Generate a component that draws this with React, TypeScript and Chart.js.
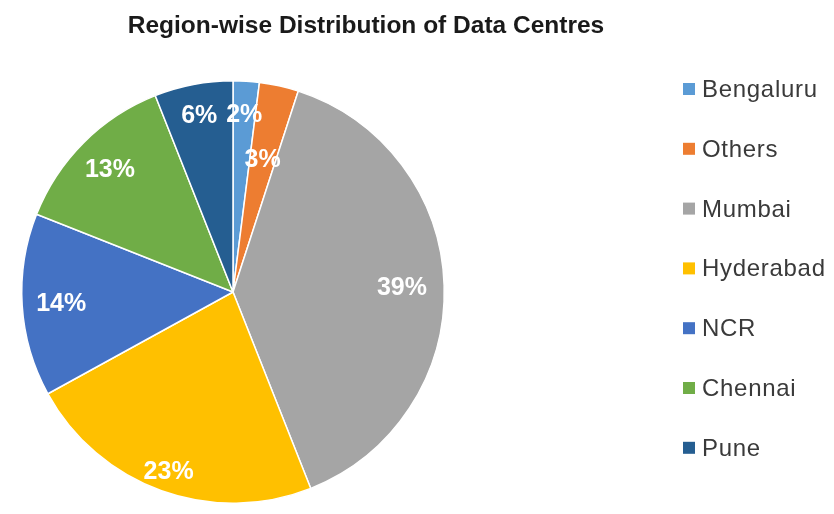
import { useEffect, useRef } from "react";
import { Chart, PieController, ArcElement } from "chart.js";

Chart.register(PieController, ArcElement);

const TITLE = "Region-wise Distribution of Data Centres";
const categories = ["Bengaluru", "Others", "Mumbai", "Hyderabad", "NCR", "Chennai", "Pune"];
const shares = [2, 3, 39, 23, 14, 13, 6];
const colors = ["#5B9BD5", "#ED7D31", "#A5A5A5", "#FFC000", "#4472C4", "#70AD47", "#255E91"];
// label distance from centre as a fraction of the radius (style only)
const labelRadius = [0.846, 0.644, 0.8, 0.9, 0.815, 0.824, 0.853];

const FONT = '"Liberation Sans", Arial, sans-serif';

const overlayPlugin = {
  id: "overlay",
  afterDatasetsDraw(chart: any) {
    const ctx = chart.ctx as CanvasRenderingContext2D;
    const meta = chart.getDatasetMeta(0);
    ctx.save();
    ctx.fillStyle = "#ffffff";
    ctx.font = `bold 25px ${FONT}`;
    ctx.textAlign = "center";
    ctx.textBaseline = "middle";
    const vals = chart.data.datasets[0].data as number[];
    const total = vals.reduce((a, b) => a + b, 0);
    meta.data.forEach((arc: any, i: number) => {
      const p = arc.getProps(["x", "y", "startAngle", "endAngle", "outerRadius"], true);
      const mid = (p.startAngle + p.endAngle) / 2;
      const r = p.outerRadius * labelRadius[i];
      const txt = `${Math.round((vals[i] / total) * 100)}%`;
      ctx.fillText(txt, p.x + Math.cos(mid) * r, p.y + Math.sin(mid) * r + 1);
    });
    ctx.restore();
  },
  afterDraw(chart: any) {
    const ctx = chart.ctx as CanvasRenderingContext2D;
    ctx.save();
    // title
    ctx.fillStyle = "#1a1a1a";
    ctx.font = `bold 24.5px ${FONT}`;
    ctx.textAlign = "center";
    ctx.textBaseline = "alphabetic";
    ctx.fillText(TITLE, 366, 33);
    // legend
    ctx.font = `24px ${FONT}`;
    ctx.textAlign = "left";
    (ctx as any).letterSpacing = "0.7px";
    const labels = chart.data.labels as string[];
    const bg = chart.data.datasets[0].backgroundColor as string[];
    labels.forEach((lab, i) => {
      const base = 97 + i * 59.8;
      ctx.fillStyle = bg[i];
      ctx.fillRect(683, base - 14, 12, 12);
      ctx.fillStyle = "#3a3a3a";
      ctx.fillText(lab, 702, base);
    });
    ctx.restore();
  },
};

export default function App() {
  const ref = useRef<HTMLCanvasElement>(null);
  useEffect(() => {
    if (!ref.current) return;
    const chart = new Chart(ref.current, {
      type: "pie",
      data: {
        labels: categories,
        datasets: [
          {
            data: shares,
            backgroundColor: colors,
            borderColor: "#ffffff",
            borderWidth: 1.5,
          },
        ],
      },
      options: {
        responsive: false,
        animation: false,
        layout: { padding: { left: 21, right: 389, top: 80, bottom: 10 } },
        plugins: {
          legend: { display: false },
          title: { display: false },
          tooltip: { enabled: false },
        },
      },
      plugins: [overlayPlugin],
    });
    return () => chart.destroy();
  }, []);
  return (
    <div style={{ position: "fixed", left: 0, top: 0, width: 834, height: 514, background: "#fff" }}>
      <canvas ref={ref} width={834} height={514} />
    </div>
  );
}
